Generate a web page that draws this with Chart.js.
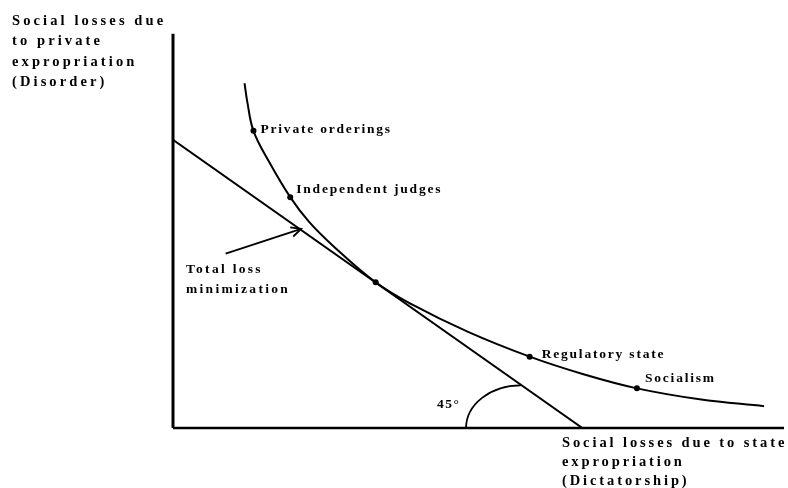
<!DOCTYPE html>
<html><head><meta charset="utf-8">
<script src="https://cdn.jsdelivr.net/npm/chart.js@4/dist/chart.umd.min.js"></script>
<style>html,body{margin:0;padding:0;background:#fff}#wrap{width:788px;height:488px}</style>
</head><body><div id="wrap"><canvas id="c" width="788" height="488"></canvas></div>
<script>
// Data units: x = losses due to state expropriation, y = losses due to private expropriation
const frontierX = [72, 75, 81, 96, 118, 137, 162, 204, 240, 297, 359, 414, 467, 530, 595];
const frontierY = [348, 328, 300, 270, 233, 208, 183, 147, 125, 97, 72, 54, 40, 29, 22];
const pointNames = ['Private orderings', 'Independent judges', '', 'Regulatory state', 'Socialism'];
const pointX = [81, 118, 204, 359, 467];
const pointY = [300, 233, 147, 72, 40];
const tangentX = [0, 412];
const tangentY = [291, 0];
const yTitle = ['Social losses due', 'to private', 'expropriation', '(Disorder)'];
const xTitle = ['Social losses due to state', 'expropriation', '(Dictatorship)'];
const annoText = ['Total loss', 'minimization'];
const angleLabel = '45°';

const frontier = frontierX.map((x, i) => ({x, y: frontierY[i]}));
const pts = pointX.map((x, i) => ({x, y: pointY[i]}));
const tangent = tangentX.map((x, i) => ({x, y: tangentY[i]}));

const decor = {
  id: 'decor',
  afterDatasetsDraw(chart) {
    const {ctx, scales: {x, y}} = chart;
    const px = v => x.getPixelForValue(v), py = v => y.getPixelForValue(v);
    ctx.save();
    ctx.strokeStyle = '#000'; ctx.fillStyle = '#000';
    // axes
    ctx.lineWidth = 3;
    ctx.beginPath(); ctx.moveTo(px(0), py(398)); ctx.lineTo(px(0), py(0)); ctx.stroke();
    ctx.lineWidth = 2.5;
    ctx.beginPath(); ctx.moveTo(px(0), py(0)); ctx.lineTo(px(615), py(0)); ctx.stroke();
    // 45 degree arc
    ctx.lineWidth = 1.8;
    ctx.beginPath();
    ctx.ellipse(px(350), py(0), px(405) - px(350), py(0) - py(43), 0, Math.PI, 1.5 * Math.PI);
    ctx.stroke();
    // arrow
    const ax0 = px(53), ay0 = py(176), ax1 = px(129), ay1 = py(201);
    ctx.lineWidth = 1.8;
    ctx.beginPath(); ctx.moveTo(ax0, ay0); ctx.lineTo(ax1, ay1); ctx.stroke();
    const ang = Math.atan2(ay1 - ay0, ax1 - ax0);
    ctx.beginPath();
    ctx.moveTo(ax1 - 11 * Math.cos(ang - 0.45), ay1 - 11 * Math.sin(ang - 0.45));
    ctx.lineTo(ax1, ay1);
    ctx.lineTo(ax1 - 11 * Math.cos(ang + 0.45), ay1 - 11 * Math.sin(ang + 0.45));
    ctx.stroke();
    // texts
    ctx.textBaseline = 'middle'; ctx.textAlign = 'left';
    ctx.font = 'bold 14.5px "Liberation Serif"';
    ctx.letterSpacing = '3.1px';
    yTitle.forEach((t, i) => ctx.fillText(t, 12, 21 + i * 20.5));
    ctx.letterSpacing = '2.9px';
    xTitle.forEach((t, i) => ctx.fillText(t, 562, 443 + i * 19));
    ctx.font = 'bold 13.5px "Liberation Serif"';
    ctx.letterSpacing = '1.8px';
    const offs = [[7, -1], [6, -8], [0, 0], [12, -2], [8, -10]];
    pointNames.forEach((t, i) => {
      if (!t) return;
      ctx.fillText(t, px(pointX[i]) + offs[i][0], py(pointY[i]) + offs[i][1]);
    });
    ctx.letterSpacing = '2.3px';
    annoText.forEach((t, i) => ctx.fillText(t, 186, 270 + i * 20));
    ctx.letterSpacing = '1.5px';
    ctx.fillText(angleLabel, 437, 405);
    ctx.restore();
  }
};

new Chart(document.getElementById('c'), {
  type: 'scatter',
  data: {
    datasets: [
      {data: frontier, showLine: true, borderColor: '#000', borderWidth: 2, pointRadius: 0, tension: 0.4, fill: false},
      {data: tangent, showLine: true, borderColor: '#000', borderWidth: 2, pointRadius: 0, fill: false},
      {data: pts, showLine: false, pointRadius: 3, pointBackgroundColor: '#000', pointBorderWidth: 0}
    ]
  },
  options: {
    responsive: false, animation: false,
    layout: {padding: {left: 173, right: 0, top: 0, bottom: 60}},
    plugins: {legend: {display: false}, tooltip: {enabled: false}},
    scales: {
      x: {type: 'linear', min: 0, max: 615, display: false},
      y: {type: 'linear', min: 0, max: 428, display: false}
    }
  },
  plugins: [decor]
});
</script></body></html>
